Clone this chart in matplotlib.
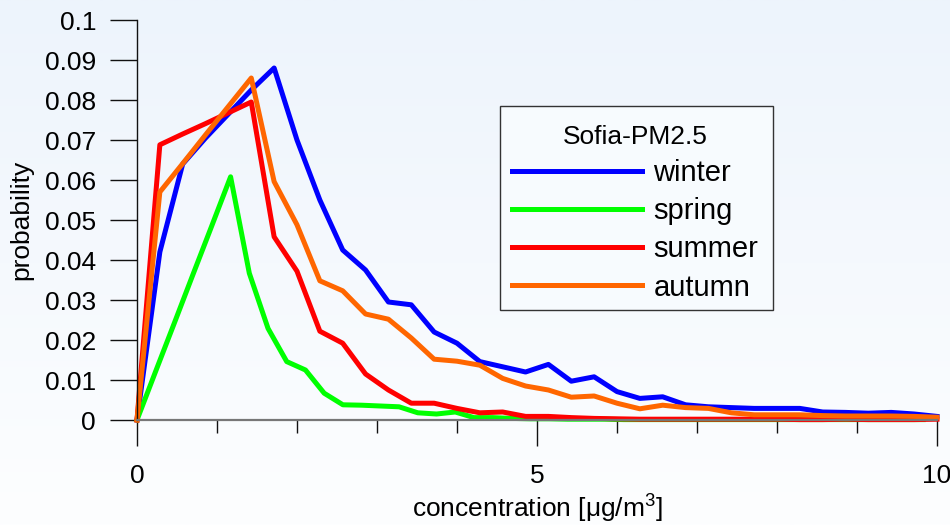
import numpy as np
import matplotlib.pyplot as plt
from matplotlib.colors import LinearSegmentedColormap
from matplotlib.patches import Rectangle
from matplotlib.ticker import MultipleLocator, FuncFormatter

plt.rcParams['font.family'] = ['Liberation Sans', 'DejaVu Sans']
plt.rcParams['mathtext.fontset'] = 'custom'
plt.rcParams['mathtext.rm'] = 'Liberation Sans'

# bin width of the histograms (spring has narrower bins)
step = 10 / 35
step_spring = 0.234

winter = [0, 0.042, 0.064, 0.0705, 0.0765, 0.0825, 0.088, 0.070, 0.055, 0.0425,
          0.0375, 0.0295, 0.0288, 0.022, 0.0192, 0.0146, 0.0133, 0.012, 0.0139, 0.0097,
          0.0108, 0.0071, 0.0054, 0.0058, 0.0038, 0.0033, 0.0031, 0.0029, 0.0029, 0.0029,
          0.0020, 0.0019, 0.0017, 0.0019, 0.0015, 0.0009]
spring = [0, 0.0122, 0.0243, 0.0365, 0.0486, 0.0608, 0.0367, 0.0229, 0.0146, 0.0125,
          0.0067, 0.0038, 0.0037, 0.0035, 0.0033, 0.0018, 0.0015, 0.0020, 0.0006, 0.0006,
          0.0004, 0.0003, 0.0003, 0.0002, 0.0002, 0.0002, 0.0001, 0.0001, 0.0001, 0.0001,
          0.0001, 0.0001, 0.0001, 0.0001, 0.0001, 0.0001, 0.0001, 0.0001, 0.0001, 0.0001,
          0.0001, 0.0001, 0.0001]
summer = [0, 0.0688, 0.0715, 0.0741, 0.0768, 0.0795, 0.0458, 0.0372, 0.0222, 0.0192,
          0.0115, 0.0075, 0.0042, 0.0042, 0.0029, 0.0018, 0.0020, 0.0009, 0.0009, 0.0006,
          0.0004, 0.0003, 0.0002, 0.0002, 0.0002, 0.0002, 0.0002, 0.0002, 0.0002, 0.0001,
          0.0001, 0.0002, 0.0001, 0.0001, 0.0001, 0.0002]
autumn = [0, 0.0570, 0.0641, 0.0713, 0.0784, 0.0855, 0.0596, 0.0488, 0.0348, 0.0323,
          0.0265, 0.0252, 0.0205, 0.0152, 0.0147, 0.0137, 0.0104, 0.0085, 0.0075, 0.0057,
          0.0060, 0.0042, 0.0028, 0.0037, 0.0031, 0.0029, 0.0018, 0.0013, 0.0013, 0.0013,
          0.0011, 0.0010, 0.0010, 0.0010, 0.0009, 0.0007]

series = [
    ('winter', winter, step, '#0000ff'),
    ('spring', spring, step_spring, '#00ff00'),
    ('summer', summer, step, '#ff0000'),
    ('autumn', autumn, step, '#ff6600'),
]

fig = plt.figure(figsize=(9.5, 5.25), dpi=100)

# light blue gradient background
bg = fig.add_axes([0, 0, 1, 1], zorder=-10)
cmap = LinearSegmentedColormap.from_list('bg', ['#fdfeff', '#edf4fc'])
bg.imshow(np.linspace(0, 1, 256).reshape(-1, 1), aspect='auto', cmap=cmap,
          origin='lower', extent=[0, 1, 0, 1])
bg.axis('off')

ax = fig.add_axes([0.1442, 0.2, 0.8421, 0.7619])
ax.patch.set_alpha(0)

for name, vals, dx, col in series:
    x = np.arange(len(vals)) * dx
    ax.plot(x, vals, color=col, lw=3.6, label=name, clip_on=False)

ax.set_xlim(0, 10)
ax.set_ylim(0, 0.1)

for s in ['top', 'right']:
    ax.spines[s].set_visible(False)
ax.spines['left'].set_color('#111111')
ax.spines['left'].set_linewidth(1.0)
ax.spines['bottom'].set_color('#777777')
ax.spines['bottom'].set_linewidth(1.6)

ax.yaxis.set_major_locator(MultipleLocator(0.01))
ax.yaxis.set_major_formatter(FuncFormatter(
    lambda v, _: '0' if abs(v) < 1e-9 else f'{v:.2f}'.rstrip('0')))
ax.xaxis.set_major_locator(MultipleLocator(5))
ax.xaxis.set_minor_locator(MultipleLocator(1))

ax.tick_params(axis='y', direction='out', length=19.5, width=1, pad=10,
               labelsize=19, color='#111111')
ax.tick_params(axis='x', which='major', direction='out', length=19, width=1,
               pad=13, labelsize=19, color='#111111')
ax.tick_params(axis='x', which='minor', direction='out', length=9.4, width=1,
               color='#111111')

ax.set_ylabel('probability', fontsize=19)
ax.yaxis.set_label_coords(-0.13, 0.5)
ax.set_xlabel('concentration [μg/m$\\mathregular{^3}$]', fontsize=19)
ax.xaxis.set_label_coords(0.5, -0.183)

# legend frame drawn separately so the title padding can match
frame = Rectangle((500 / 950, 1 - 310 / 525), 273 / 950, 204 / 525,
                  transform=fig.transFigure, facecolor='#f7fbfe',
                  edgecolor='#333333', lw=1, zorder=4, clip_on=False)
ax.add_patch(frame)

leg = ax.legend(title='Sofia-PM2.5', loc='upper left', bbox_to_anchor=(0.454, 0.7675),
                borderaxespad=0, fontsize=21, title_fontsize=19, handlelength=4.45,
                handletextpad=0.4, labelspacing=0.35, borderpad=0.4, frameon=False)
leg.set_zorder(5)

fig.savefig('out.png', dpi=100)
